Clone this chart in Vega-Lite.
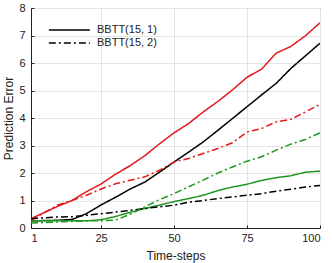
{
  "$schema": "https://vega.github.io/schema/vega-lite/v6.json",
  "width": 289,
  "height": 220,
  "autosize": "none",
  "padding": {"left": 31, "top": 8, "right": 12, "bottom": 35},
  "config": {
    "font": "Liberation Sans",
    "view": {"stroke": "#222", "strokeWidth": 1},
    "axis": {
      "labelFont": "Liberation Sans",
      "titleFont": "Liberation Sans",
      "labelFontSize": 11,
      "titleFontSize": 12,
      "titleFontWeight": "normal",
      "labelColor": "#222",
      "titleColor": "#222",
      "gridColor": "#e3e3e3",
      "gridWidth": 1,
      "domainColor": "#222",
      "tickColor": "#222",
      "tickSize": -3
    }
  },
  "data": {
    "values": [
      {"t": 1, "m": "red", "c": "BBTT(15, 1)", "v": 0.34},
      {"t": 10, "m": "red", "c": "BBTT(15, 1)", "v": 0.78},
      {"t": 15, "m": "red", "c": "BBTT(15, 1)", "v": 1.0},
      {"t": 20, "m": "red", "c": "BBTT(15, 1)", "v": 1.32},
      {"t": 25, "m": "red", "c": "BBTT(15, 1)", "v": 1.6},
      {"t": 30, "m": "red", "c": "BBTT(15, 1)", "v": 1.96},
      {"t": 35, "m": "red", "c": "BBTT(15, 1)", "v": 2.27},
      {"t": 40, "m": "red", "c": "BBTT(15, 1)", "v": 2.63},
      {"t": 45, "m": "red", "c": "BBTT(15, 1)", "v": 3.06},
      {"t": 50, "m": "red", "c": "BBTT(15, 1)", "v": 3.46},
      {"t": 55, "m": "red", "c": "BBTT(15, 1)", "v": 3.8},
      {"t": 60, "m": "red", "c": "BBTT(15, 1)", "v": 4.22},
      {"t": 65, "m": "red", "c": "BBTT(15, 1)", "v": 4.6},
      {"t": 70, "m": "red", "c": "BBTT(15, 1)", "v": 5.02},
      {"t": 75, "m": "red", "c": "BBTT(15, 1)", "v": 5.48},
      {"t": 80, "m": "red", "c": "BBTT(15, 1)", "v": 5.78},
      {"t": 85, "m": "red", "c": "BBTT(15, 1)", "v": 6.36},
      {"t": 90, "m": "red", "c": "BBTT(15, 1)", "v": 6.6},
      {"t": 95, "m": "red", "c": "BBTT(15, 1)", "v": 6.99},
      {"t": 100, "m": "red", "c": "BBTT(15, 1)", "v": 7.46},

      {"t": 1, "m": "black", "c": "BBTT(15, 1)", "v": 0.26},
      {"t": 10, "m": "black", "c": "BBTT(15, 1)", "v": 0.28},
      {"t": 15, "m": "black", "c": "BBTT(15, 1)", "v": 0.31},
      {"t": 20, "m": "black", "c": "BBTT(15, 1)", "v": 0.52},
      {"t": 25, "m": "black", "c": "BBTT(15, 1)", "v": 0.84},
      {"t": 30, "m": "black", "c": "BBTT(15, 1)", "v": 1.12},
      {"t": 35, "m": "black", "c": "BBTT(15, 1)", "v": 1.42},
      {"t": 40, "m": "black", "c": "BBTT(15, 1)", "v": 1.67},
      {"t": 45, "m": "black", "c": "BBTT(15, 1)", "v": 2.03},
      {"t": 50, "m": "black", "c": "BBTT(15, 1)", "v": 2.4},
      {"t": 55, "m": "black", "c": "BBTT(15, 1)", "v": 2.76},
      {"t": 60, "m": "black", "c": "BBTT(15, 1)", "v": 3.13},
      {"t": 65, "m": "black", "c": "BBTT(15, 1)", "v": 3.55},
      {"t": 70, "m": "black", "c": "BBTT(15, 1)", "v": 3.98},
      {"t": 75, "m": "black", "c": "BBTT(15, 1)", "v": 4.41},
      {"t": 80, "m": "black", "c": "BBTT(15, 1)", "v": 4.84},
      {"t": 85, "m": "black", "c": "BBTT(15, 1)", "v": 5.26},
      {"t": 90, "m": "black", "c": "BBTT(15, 1)", "v": 5.8},
      {"t": 95, "m": "black", "c": "BBTT(15, 1)", "v": 6.26},
      {"t": 100, "m": "black", "c": "BBTT(15, 1)", "v": 6.72},

      {"t": 1, "m": "green", "c": "BBTT(15, 1)", "v": 0.26},
      {"t": 10, "m": "green", "c": "BBTT(15, 1)", "v": 0.26},
      {"t": 20, "m": "green", "c": "BBTT(15, 1)", "v": 0.26},
      {"t": 25, "m": "green", "c": "BBTT(15, 1)", "v": 0.3},
      {"t": 30, "m": "green", "c": "BBTT(15, 1)", "v": 0.42},
      {"t": 35, "m": "green", "c": "BBTT(15, 1)", "v": 0.57},
      {"t": 40, "m": "green", "c": "BBTT(15, 1)", "v": 0.71},
      {"t": 45, "m": "green", "c": "BBTT(15, 1)", "v": 0.83},
      {"t": 50, "m": "green", "c": "BBTT(15, 1)", "v": 0.96},
      {"t": 55, "m": "green", "c": "BBTT(15, 1)", "v": 1.07},
      {"t": 60, "m": "green", "c": "BBTT(15, 1)", "v": 1.19},
      {"t": 65, "m": "green", "c": "BBTT(15, 1)", "v": 1.36},
      {"t": 70, "m": "green", "c": "BBTT(15, 1)", "v": 1.49},
      {"t": 75, "m": "green", "c": "BBTT(15, 1)", "v": 1.59},
      {"t": 80, "m": "green", "c": "BBTT(15, 1)", "v": 1.73},
      {"t": 85, "m": "green", "c": "BBTT(15, 1)", "v": 1.83},
      {"t": 90, "m": "green", "c": "BBTT(15, 1)", "v": 1.9},
      {"t": 95, "m": "green", "c": "BBTT(15, 1)", "v": 2.03},
      {"t": 100, "m": "green", "c": "BBTT(15, 1)", "v": 2.07},

      {"t": 1, "m": "red", "c": "BBTT(15, 2)", "v": 0.28},
      {"t": 10, "m": "red", "c": "BBTT(15, 2)", "v": 0.83},
      {"t": 15, "m": "red", "c": "BBTT(15, 2)", "v": 1.0},
      {"t": 20, "m": "red", "c": "BBTT(15, 2)", "v": 1.19},
      {"t": 25, "m": "red", "c": "BBTT(15, 2)", "v": 1.42},
      {"t": 30, "m": "red", "c": "BBTT(15, 2)", "v": 1.61},
      {"t": 35, "m": "red", "c": "BBTT(15, 2)", "v": 1.74},
      {"t": 40, "m": "red", "c": "BBTT(15, 2)", "v": 1.86},
      {"t": 45, "m": "red", "c": "BBTT(15, 2)", "v": 2.1},
      {"t": 50, "m": "red", "c": "BBTT(15, 2)", "v": 2.4},
      {"t": 55, "m": "red", "c": "BBTT(15, 2)", "v": 2.53},
      {"t": 60, "m": "red", "c": "BBTT(15, 2)", "v": 2.71},
      {"t": 65, "m": "red", "c": "BBTT(15, 2)", "v": 2.89},
      {"t": 70, "m": "red", "c": "BBTT(15, 2)", "v": 3.1},
      {"t": 75, "m": "red", "c": "BBTT(15, 2)", "v": 3.49},
      {"t": 80, "m": "red", "c": "BBTT(15, 2)", "v": 3.62},
      {"t": 85, "m": "red", "c": "BBTT(15, 2)", "v": 3.86},
      {"t": 90, "m": "red", "c": "BBTT(15, 2)", "v": 3.95},
      {"t": 95, "m": "red", "c": "BBTT(15, 2)", "v": 4.22},
      {"t": 100, "m": "red", "c": "BBTT(15, 2)", "v": 4.5},

      {"t": 1, "m": "black", "c": "BBTT(15, 2)", "v": 0.34},
      {"t": 10, "m": "black", "c": "BBTT(15, 2)", "v": 0.4},
      {"t": 15, "m": "black", "c": "BBTT(15, 2)", "v": 0.41},
      {"t": 20, "m": "black", "c": "BBTT(15, 2)", "v": 0.46},
      {"t": 25, "m": "black", "c": "BBTT(15, 2)", "v": 0.52},
      {"t": 30, "m": "black", "c": "BBTT(15, 2)", "v": 0.58},
      {"t": 35, "m": "black", "c": "BBTT(15, 2)", "v": 0.64},
      {"t": 40, "m": "black", "c": "BBTT(15, 2)", "v": 0.71},
      {"t": 45, "m": "black", "c": "BBTT(15, 2)", "v": 0.77},
      {"t": 50, "m": "black", "c": "BBTT(15, 2)", "v": 0.83},
      {"t": 55, "m": "black", "c": "BBTT(15, 2)", "v": 0.94},
      {"t": 60, "m": "black", "c": "BBTT(15, 2)", "v": 1.0},
      {"t": 65, "m": "black", "c": "BBTT(15, 2)", "v": 1.07},
      {"t": 70, "m": "black", "c": "BBTT(15, 2)", "v": 1.13},
      {"t": 75, "m": "black", "c": "BBTT(15, 2)", "v": 1.19},
      {"t": 80, "m": "black", "c": "BBTT(15, 2)", "v": 1.25},
      {"t": 85, "m": "black", "c": "BBTT(15, 2)", "v": 1.34},
      {"t": 90, "m": "black", "c": "BBTT(15, 2)", "v": 1.41},
      {"t": 95, "m": "black", "c": "BBTT(15, 2)", "v": 1.49},
      {"t": 100, "m": "black", "c": "BBTT(15, 2)", "v": 1.55},

      {"t": 1, "m": "green", "c": "BBTT(15, 2)", "v": 0.18},
      {"t": 10, "m": "green", "c": "BBTT(15, 2)", "v": 0.22},
      {"t": 20, "m": "green", "c": "BBTT(15, 2)", "v": 0.26},
      {"t": 25, "m": "green", "c": "BBTT(15, 2)", "v": 0.26},
      {"t": 30, "m": "green", "c": "BBTT(15, 2)", "v": 0.29},
      {"t": 35, "m": "green", "c": "BBTT(15, 2)", "v": 0.5},
      {"t": 40, "m": "green", "c": "BBTT(15, 2)", "v": 0.77},
      {"t": 45, "m": "green", "c": "BBTT(15, 2)", "v": 1.03},
      {"t": 50, "m": "green", "c": "BBTT(15, 2)", "v": 1.25},
      {"t": 55, "m": "green", "c": "BBTT(15, 2)", "v": 1.5},
      {"t": 60, "m": "green", "c": "BBTT(15, 2)", "v": 1.74},
      {"t": 65, "m": "green", "c": "BBTT(15, 2)", "v": 2.0},
      {"t": 70, "m": "green", "c": "BBTT(15, 2)", "v": 2.22},
      {"t": 75, "m": "green", "c": "BBTT(15, 2)", "v": 2.43},
      {"t": 80, "m": "green", "c": "BBTT(15, 2)", "v": 2.59},
      {"t": 85, "m": "green", "c": "BBTT(15, 2)", "v": 2.83},
      {"t": 90, "m": "green", "c": "BBTT(15, 2)", "v": 3.05},
      {"t": 95, "m": "green", "c": "BBTT(15, 2)", "v": 3.22},
      {"t": 100, "m": "green", "c": "BBTT(15, 2)", "v": 3.46}
    ]
  },
  "mark": {"type": "line", "strokeWidth": 1.5, "clip": true},
  "encoding": {
    "x": {
      "field": "t", "type": "quantitative",
      "scale": {"domain": [1, 100], "nice": false, "zero": false},
      "axis": {"values": [1, 25, 50, 75, 100], "title": "Time-steps", "titlePadding": 7, "labelPadding": 7}
    },
    "y": {
      "field": "v", "type": "quantitative",
      "scale": {"domain": [0, 8], "nice": false},
      "axis": {"values": [0, 1, 2, 3, 4, 5, 6, 7, 8], "title": "Prediction Error", "titlePadding": 3, "labelPadding": 9}
    },
    "color": {
      "field": "m", "type": "nominal",
      "scale": {"domain": ["red", "black", "green"], "range": ["#e31a1c", "#000000", "#1f961f"]},
      "legend": null
    },
    "strokeDash": {
      "field": "c", "type": "nominal",
      "scale": {"domain": ["BBTT(15, 1)", "BBTT(15, 2)"], "range": [[1, 0], [7, 3, 2, 3]]},
      "legend": {
        "title": null,
        "orient": "none",
        "legendX": 17,
        "legendY": 16,
        "symbolType": "M-1,0H7",
        "symbolStrokeColor": "#000",
        "symbolFillColor": "transparent",
        "symbolStrokeWidth": 1.5,
        "symbolSize": 105,
        "labelFontSize": 11,
        "labelColor": "#222",
        "labelFont": "Liberation Sans",
        "rowPadding": 2,
        "labelOffset": 37
      }
    },
    "detail": {"field": "m"}
  }
}
